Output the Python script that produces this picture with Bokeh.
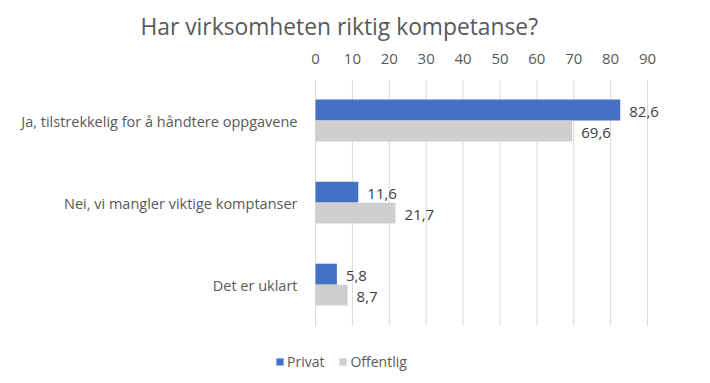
from bokeh.plotting import figure
from bokeh.models import (ColumnDataSource, Range1d, FixedTicker, Legend,
                          LegendItem, Title)
from bokeh.transform import dodge
from bokeh.core.properties import value
from bokeh.embed import file_html
from bokeh.resources import INLINE

title_text = "Har virksomheten riktig kompetanse?"
categories = ["Ja, tilstrekkelig for å håndtere oppgavene",
              "Nei, vi mangler viktige komptanser",
              "Det er uklart"]
series_names = ["Privat", "Offentlig"]
privat = [82.6, 11.6, 5.8]
offentlig = [69.6, 21.7, 8.7]
x_ticks = [0, 10, 20, 30, 40, 50, 60, 70, 80, 90]

FONT = "Open Sans"
BLUE = "#4472C4"
GRAY = "#D0CECE"
TXT = "#595959"

def fmt(v):
    return f"{v:.1f}".replace(".", ",")

n = len(categories)
ypos = [n - 1 - i + 0.5 for i in range(n)]   # category band centres, top first

src = ColumnDataSource(dict(
    cat=categories,
    y=ypos,
    zero=[0] * n,
    privat=privat,
    offentlig=offentlig,
    plab=[fmt(v) for v in privat],
    olab=[fmt(v) for v in offentlig],
))
grid_src = ColumnDataSource(dict(x=x_ticks, y0=[0] * len(x_ticks), y1=[n] * len(x_ticks)))

W, H = 700, 375
p = figure(width=W, height=H, output_backend="svg", toolbar_location=None,
           x_range=Range1d(-85.39, 104.36), y_range=Range1d(-0.607, 3.0),
           x_axis_location="above", y_axis_location=None,
           min_border_left=0, min_border_right=0, min_border_top=78,
           min_border_bottom=0)
p.outline_line_color = None
p.background_fill_color = "white"
p.border_fill_color = "white"
p.xgrid.grid_line_color = None
p.ygrid.grid_line_color = None

p.title = Title(text=title_text, align="left", offset=140, text_font=FONT,
                text_font_size="22.8px", text_color=TXT, text_font_style="normal",
                standoff=17)

# vertical gridlines at the tick values, spanning the category area only
p.segment(x0="x", y0="y0", x1="x", y1="y1", source=grid_src,
          line_color="#D9D9D9", line_width=1)

bw = 0.255
off = 0.128
r1 = p.hbar(y=dodge("y", off), right="privat", left=0, height=bw,
            source=src, fill_color=BLUE, line_color=None)
r2 = p.hbar(y=dodge("y", -off), right="offentlig", left=0, height=bw,
            source=src, fill_color=GRAY, line_color=None)

p.text(x="privat", y=dodge("y", off), text="plab", source=src,
       x_offset=9, y_offset=2, text_baseline="middle", text_align="left",
       text_font=value(FONT), text_font_size="15px", text_color="#404040")
p.text(x="offentlig", y=dodge("y", -off), text="olab", source=src,
       x_offset=9, y_offset=2, text_baseline="middle", text_align="left",
       text_font=value(FONT), text_font_size="15px", text_color="#404040")

# category labels, right-aligned just left of the value axis origin
p.text(x="zero", y="y", text="cat", source=src,
       x_offset=-18, y_offset=1, text_baseline="middle", text_align="right",
       text_font=value(FONT), text_font_size="14.5px", text_color=TXT)

xa = p.xaxis[0]
xa.ticker = FixedTicker(ticks=x_ticks)
xa.axis_line_color = None
xa.major_tick_line_color = None
xa.minor_tick_line_color = None
xa.major_tick_out = 0
xa.major_tick_in = 0
xa.major_label_text_font = FONT
xa.major_label_text_font_size = "15px"
xa.major_label_text_color = TXT
xa.major_label_standoff = 16

legend = Legend(items=[LegendItem(label=series_names[0], renderers=[r1]),
                       LegendItem(label=series_names[1], renderers=[r2])],
                orientation="horizontal", location=(275, 4),
                glyph_width=9, glyph_height=9, label_text_font=FONT,
                label_text_font_size="14px", label_text_color=TXT,
                background_fill_alpha=0, border_line_color=None,
                spacing=14, label_standoff=3, padding=0, margin=0)
p.add_layout(legend, "center")

open("out.html", "w").write(file_html(p, INLINE))
